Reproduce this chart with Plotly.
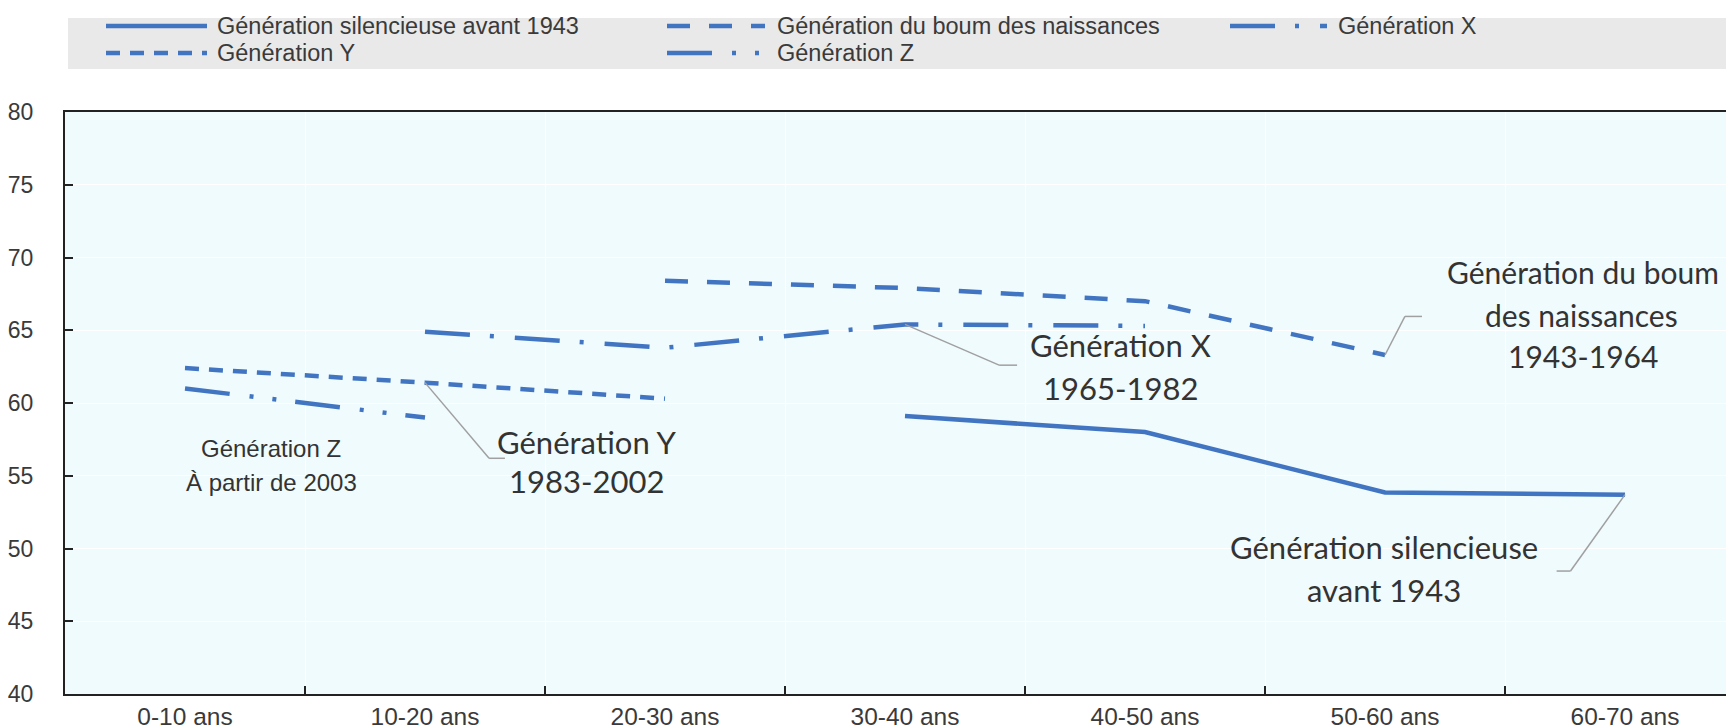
import plotly.graph_objects as go

# ---------------- data ----------------
categories = ["0-10 ans", "10-20 ans", "20-30 ans", "30-40 ans", "40-50 ans", "50-60 ans", "60-70 ans"]

silent_vals = [None, None, None, 59.1, 58.0, 53.85, 53.7]
boom_vals   = [None, None, 68.4, 67.9, 67.0, 63.3, None]
genx_vals   = [None, 64.9, 63.8, 65.4, 65.3, None, None]
geny_vals   = [62.4, 61.4, 60.3, None, None, None, None]
genz_vals   = [61.0, 59.0, None, None, None, None, None]

series_names = [
    "Génération silencieuse avant 1943",
    "Génération du boum des naissances",
    "Génération X",
    "Génération Y",
    "Génération Z",
]

# ---------------- styling ----------------
W, H = 1734, 728
ML, MR, MT, MB = 57, 0, 104, 42
PW, PH = W - ML - MR, H - MT - MB
CAT_W = 240

BLUE = "#4175c2"
TXT = "#3a3a3a"
dashes = {
    series_names[0]: "solid",
    series_names[1]: "23px,19px",
    series_names[2]: "45px,20px,4px,21px",
    series_names[3]: "14px,10px",
    series_names[4]: "45px,20px,4px,19px,4px,19px",
}
values = {
    series_names[0]: silent_vals,
    series_names[1]: boom_vals,
    series_names[2]: genx_vals,
    series_names[3]: geny_vals,
    series_names[4]: genz_vals,
}


def px_x(px):
    return (px - ML) / PW


def px_y(py):
    return (H - MB - py) / PH


fig = go.Figure()
for name in series_names:
    vals = values[name]
    xs = [c for c, v in zip(categories, vals) if v is not None]
    ys = [v for v in vals if v is not None]
    fig.add_trace(go.Scatter(
        x=xs, y=ys, name=name, mode="lines",
        line=dict(color=BLUE, width=4.5, dash=dashes[name]),
        showlegend=False,
    ))

shapes = []
annotations = []

# custom legend box (full-width grey band)
shapes.append(dict(type="rect", xref="paper", yref="paper",
                   x0=px_x(60), x1=px_x(1740), y0=px_y(61), y1=px_y(10),
                   fillcolor="#e9e9e9", line=dict(width=0), layer="below"))
legend_pos = [
    (98, 199, 18, 207),
    (659, 757, 18, 767),
    (1222, 1319, 18, 1328),
    (98, 199, 45, 207),
    (659, 757, 45, 767),
]
for name, (x0, x1, yy, tx) in zip(series_names, legend_pos):
    shapes.append(dict(type="line", xref="paper", yref="paper",
                       x0=px_x(x0), x1=px_x(x1), y0=px_y(yy), y1=px_y(yy),
                       line=dict(color=BLUE, width=4.5, dash=dashes[name])))
    annotations.append(dict(xref="paper", yref="paper", x=px_x(tx), y=px_y(yy),
                            text=name, showarrow=False, xanchor="left", yanchor="middle",
                            font=dict(family="Liberation Sans, Arial", size=23.5, color=TXT)))

# leader lines (gray) in data coordinates (x = category index)
LEAD = dict(color="#a0a0a0", width=1.5)
leaders = [
    [(1, 61.4), (1.267, 56.2), (1.333, 56.2)],        # Y
    [(3, 65.4), (3.392, 62.6), (3.467, 62.6)],        # X
    [(5, 63.3), (5.083, 65.95), (5.154, 65.95)],      # boom
    [(6, 53.7), (5.773, 48.45), (5.715, 48.45)],      # silent
]
for pts in leaders:
    for (xa, ya), (xb, yb) in zip(pts[:-1], pts[1:]):
        shapes.append(dict(type="line", xref="x", yref="y",
                           x0=xa, y0=ya, x1=xb, y1=yb, line=LEAD))

BIG = dict(family="Lato, Open Sans, sans-serif", size=31, color="#333333")
BOOM = dict(family="Lato, Open Sans, sans-serif", size=30, color="#333333")
SMALL = dict(family="Liberation Sans, Arial", size=24, color="#333333")
labels = [
    ("Génération Z", 0.36, 56.85, SMALL),
    ("À partir de 2003", 0.36, 54.56, SMALL),
    ("Génération Y", 1.672, 57.3, BIG),
    ("1983-2002", 1.672, 54.65, BIG),
    ("Génération X", 3.896, 64.0, BIG),
    ("1965-1982", 3.896, 61.05, BIG),
    ("Génération du boum", 5.825, 68.98, BOOM),
    ("des naissances", 5.82, 66.08, BOOM),
    ("1943-1964", 5.825, 63.23, BOOM),
    ("Génération silencieuse", 4.995, 50.07, BIG),
    ("avant 1943", 4.995, 47.15, BIG),
]
for t, x, y, f in labels:
    annotations.append(dict(xref="x", yref="y", x=x, y=y, text=t, showarrow=False,
                            xanchor="center", yanchor="middle", font=f))

fig.update_layout(
    width=W, height=H,
    margin=dict(l=ML, r=MR, t=MT, b=MB, pad=0),
    paper_bgcolor="white",
    plot_bgcolor="#f0fbfd",
    shapes=shapes,
    annotations=annotations,
    showlegend=False,
    font=dict(family="Liberation Sans, Arial", size=22, color=TXT),
)
fig.update_xaxes(
    type="category", categoryorder="array", categoryarray=categories,
    range=[-0.5, -0.5 + PW / CAT_W],
    tickson="boundaries", ticks="inside", ticklen=8, tickwidth=2, tickcolor="#222",
    showline=True, linecolor="#222", linewidth=2, mirror=True,
    showgrid=True, gridcolor="white", gridwidth=1,
    tickfont=dict(family="Liberation Sans, Arial", size=24.5, color=TXT),
    zeroline=False,
)
fig.update_yaxes(
    range=[40, 80], dtick=5, tick0=40,
    ticks="inside", ticklen=8, tickwidth=2, tickcolor="#222",
    showline=True, linecolor="#222", linewidth=2,
    showgrid=True, gridcolor="white", gridwidth=1,
    tickfont=dict(family="Liberation Sans, Arial", size=23, color=TXT),
    ticklabelstandoff=25,
    zeroline=False,
)

fig.write_html("out.html")
